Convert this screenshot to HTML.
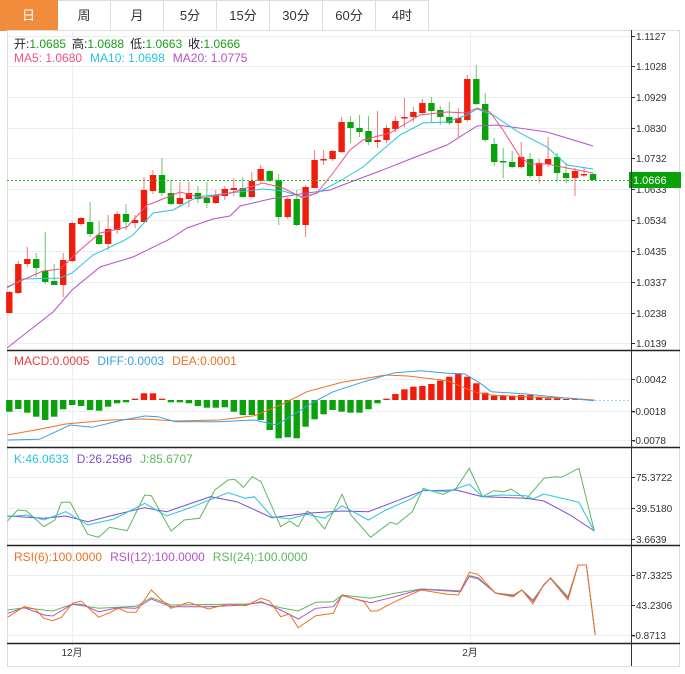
<!DOCTYPE html>
<html><head><meta charset="utf-8"><style>
body{margin:0;background:#fff;width:685px;height:674px;overflow:hidden;font-family:"Liberation Sans","Noto Sans CJK SC",sans-serif}
.tabs{position:absolute;left:0;top:0;height:30px;display:flex}
.tab{width:52px;height:29px;border:1px solid #ddd;border-left:none;text-align:center;line-height:29px;font-size:13px;color:#333;box-sizing:content-box}
.tab.on{background:#f08c3c;color:#fff;border-color:#f08c3c;width:57px}
svg{position:absolute;left:0;top:0}
</style></head><body>
<div class="tabs"><div class="tab on">日</div><div class="tab">周</div><div class="tab">月</div><div class="tab">5分</div><div class="tab">15分</div><div class="tab">30分</div><div class="tab">60分</div><div class="tab">4时</div></div>
<svg id="s" width="685" height="674" xmlns="http://www.w3.org/2000/svg" font-family="Liberation Sans, Noto Sans CJK SC, sans-serif"></svg>
<script>
var s=document.getElementById('s'),h='';
function L(x1,y1,x2,y2,c,w,d){h+='<line x1="'+x1+'" y1="'+y1+'" x2="'+x2+'" y2="'+y2+'" stroke="'+c+'" stroke-width="'+(w||1)+'"'+(d?' stroke-dasharray="'+d+'"':'')+'/>';}
function T(x,y,t,c,sz,a){h+='<text x="'+x+'" y="'+y+'" fill="'+c+'" font-size="'+(sz||11)+'"'+(a?' text-anchor="'+a+'"':'')+'>'+t+'</text>';}
function P(pts,c,w){h+='<polyline fill="none" stroke="'+c+'" stroke-width="'+(w||1)+'" points="'+pts.map(function(p){return p[0]+','+p[1]}).join(' ')+'"/>';}
function Z(pts,yo){return pts.map(function(p){return [(p[0]/2.28).toFixed(1),(yo+p[1]/3).toFixed(1)]});}
// frame
h+='<rect x="7.5" y="30.5" width="672" height="636" fill="none" stroke="#ddd"/>';
// grid main
[36,66,97,128,158,189,220,251,282,313,343].forEach(function(y){L(7,y+.5,631,y+.5,'#e8eef2');});
[379,411,440,477,508,539,575,605,635].forEach(function(y){L(7,y+.5,631,y+.5,'#e8eef2');});
L(72.5,30,72.5,643,'#e8eef2');L(470.5,30,470.5,643,'#e8eef2');
// labels main
var lab=['1.1127','1.1028','1.0929','1.0830','1.0732','1.0633','1.0534','1.0435','1.0337','1.0238','1.0139'];
[36,66,97,128,158,189,220,251,282,313,343].forEach(function(y,i){L(631,y+.5,635,y+.5,'#333');T(636,y+4,lab[i],'#333',10);});
[[379,'0.0042'],[411,'-0.0018'],[440,'-0.0078'],[477,'75.3722'],[508,'39.5180'],[539,'3.6639'],[575,'87.3325'],[605,'43.2306'],[635,'-0.8713']].forEach(function(a){L(631,a[0]+.5,635,a[0]+.5,'#333');T(a[1][0]=='-'?632:636,a[0]+4,a[1],'#333',10);});
// candles [color, bodyTop, bodyBot, wickTop, wickBot]
var C=[['r',292,313,291,313],['r',264,293,261,294],['r',259,264,247,267],['g',259,268,253,277],['g',271,282,232,284],['g',281,285,264,285],['r',260,285,253,297],['r',223,261,222,262],['r',218,224,217,226],['g',222,234,202,237],['g',235,244,221,245],['r',229,244,215,250],['r',214,230,211,234],['g',214,222,204,230],['r',220,223,215,228],['r',190,222,177,222],['r',175,191,170,194],['g',175,193,158,196],['g',193,204,180,205],['r',198,204,182,207],['r',193,199,182,207],['g',193,199,186,203],['g',198,203,182,208],['r',195,203,190,204],['r',189,196,186,200],['r',188,190,178,196],['g',188,197,177,198],['r',181,197,172,198],['r',169,181,165,183],['g',171,181,170,182],['g',180,217,174,225],['r',199,217,197,219],['g',199,225,190,226],['r',187,225,185,237],['r',160,188,150,188],['r',159,160,150,165],['r',151,159,150,161],['r',122,152,117,153],['g',122,128,116,143],['g',128,132,115,137],['g',131,142,116,145],['r',140,142,111,148],['r',128,140,125,143],['r',121,129,116,132],['r',117,118,98,127],['r',112,117,107,122],['r',103,113,99,115],['g',103,111,97,122],['g',110,117,106,125],['g',117,123,102,125],['r',118,123,108,137],['r',79,120,75,122],['g',79,104,65,105],['g',104,140,93,142],['g',144,162,138,166],['g',161,162,148,178],['g',162,167,151,168],['r',157,167,142,168],['g',159,176,153,178],['r',163,176,159,183],['r',159,164,137,167],['g',157,173,153,182],['g',173,178,163,183],['r',171,178,168,196],['r',174,175,168,177],['g',174,180,173,180]];
C.forEach(function(c,i){var x=9.3+8.98*i,col=c[0]=='r'?'#f01c0c':'#0aa20a',wc=c[0]=='r'?'#f47a72':'#6ac86a';
L(x.toFixed(1),c[3],x.toFixed(1),c[4],wc);h+='<rect x="'+(x-3.2).toFixed(1)+'" y="'+c[1]+'" width="6.4" height="'+Math.max(1.5,c[2]-c[1])+'" fill="'+col+'"/>';});
// MAs
P([[7,348],[53,312],[72,290],[100,267],[133,257],[170,239],[187,228],[213,219],[230,216],[240,206],[270,199],[300,194],[330,190],[340,186],[380,171],[413,158],[447,145],[477,126],[497,125],[547,132],[593,146]],'#b452c8');
P([[7,288],[23,279],[60,278],[72,273],[93,255],[123,241],[133,235],[153,213],[173,210],[197,197],[230,193],[263,189],[283,191],[303,197],[317,193],[340,181],[363,167],[380,152],[400,135],[423,123],[447,122],[467,115],[477,109],[493,115],[520,133],[547,147],[567,165],[593,169]],'#28c4dc');
P([[7,287],[43,271],[60,269],[80,250],[100,233],[127,227],[147,205],[153,203],[180,192],[203,198],[230,193],[263,183],[283,188],[303,198],[317,193],[333,173],[350,150],[363,140],[390,133],[400,127],[420,115],[447,112],[467,113],[477,108],[490,112],[503,130],[520,157],[530,164],[547,164],[567,168],[593,173]],'#f0508a');
// current price line
L(7,180.5,631,180.5,'#22bb22',1,'2,2');
h+='<rect x="629" y="172" width="52" height="16" fill="#0aa20a"/>';T(633,184,'1.0666','#fff',11);
// MACD histogram
var M=[185,177,188,200,210,200,178,165,168,180,182,170,160,157,146,130,130,146,157,157,160,168,173,173,172,185,195,195,210,240,265,262,265,230,208,193,180,185,188,188,178,160,146,132,118,110,108,102,92,80,70,80,100,128,137,137,137,135,135,140,145,145,147,148,149,150];
M.forEach(function(v,i){var x=9.3+8.98*i,y0=400,dy=(v-150)/3;if(Math.abs(dy)<0.5)return;
h+='<rect x="'+(x-3.2).toFixed(1)+'" y="'+(dy>0?y0:y0+dy).toFixed(1)+'" width="6.4" height="'+Math.abs(dy).toFixed(1)+'" fill="'+(dy>0?'#0aa20a':'#f01c0c')+'"/>';});
P(Z([[17,255],[80,240],[150,222],[250,210],[330,207],[400,213],[500,210],[580,197],[640,165],[700,125],[780,97],[880,75],[930,78],[1020,92],[1080,125],[1120,135],[1200,140],[1300,145],[1355,150]],350),'#f07020');
P(Z([[17,270],[90,268],[160,225],[210,232],[280,210],[330,198],[360,200],[400,215],[500,215],[580,210],[630,225],[680,185],[710,160],[760,125],[830,95],[900,68],[960,62],[1020,70],[1060,72],[1095,100],[1120,125],[1200,132],[1260,140],[1355,152]],350),'#3aa0e8');
L(595,400.5,631,400.5,'#9cd4f0',1,'2,2');
// KDJ
P(Z([[17,228],[40,195],[60,197],[100,245],[125,225],[140,172],[160,172],[200,268],[225,277],[250,247],[290,257],[330,150],[345,152],[390,258],[420,225],[455,220],[490,135],[520,105],[535,103],[555,127],[575,95],[595,110],[640,245],[660,228],[680,245],[700,198],[710,205],[740,252],[780,148],[800,210],[845,277],[890,232],[905,238],[940,200],[965,130],[1010,148],[1040,130],[1070,70],[1100,155],[1125,137],[1150,140],[1165,132],[1200,162],[1240,100],[1265,95],[1280,97],[1320,70],[1355,258]],445),'#5cb85c');
P(Z([[17,213],[100,220],[150,213],[200,230],[260,210],[330,188],[380,200],[480,155],[540,170],[620,218],[700,205],[780,198],[840,200],[900,170],[965,137],[1040,135],[1100,155],[1200,160],[1240,168],[1300,210],[1355,258]],445),'#7a4ed0');
P(Z([[17,215],[60,210],[100,225],[150,200],[200,240],[260,222],[330,175],[380,213],[440,185],[520,143],[560,160],[580,155],[620,215],[660,222],[700,208],[740,220],[780,182],[840,225],[880,195],[940,160],[965,135],[1020,140],[1070,118],[1100,155],[1140,150],[1200,152],[1215,162],[1240,147],[1320,172],[1355,258]],445),'#28c4dc');
// RSI
P(Z([[17,495],[55,488],[120,498],[165,478],[225,490],[310,484],[345,458],[390,480],[560,477],[595,473],[640,488],[680,498],[720,472],[760,470],[780,450],[845,460],[900,445],[960,432],[1050,437],[1070,395],[1090,402],[1130,444],[1170,450],[1190,435],[1215,465],[1240,420],[1255,398],[1295,455],[1318,360],[1337,360],[1357,570]],445),'#5cb85c');
P(Z([[17,505],[55,488],[100,510],[120,513],[165,478],[185,478],[225,500],[270,488],[310,490],[345,462],[390,485],[475,485],[560,480],[595,470],[640,495],[680,522],[720,490],[760,485],[780,452],[845,473],[900,455],[960,433],[1050,440],[1070,392],[1090,398],[1130,445],[1170,452],[1190,435],[1215,470],[1240,420],[1255,400],[1295,460],[1318,360],[1337,360],[1357,570]],445),'#b452c8');
P(Z([[17,517],[55,485],[80,492],[100,520],[120,527],[140,517],[165,475],[185,468],[225,517],[250,503],[270,490],[290,502],[310,502],[345,435],[370,467],[390,490],[430,472],[475,492],[520,477],[560,482],[595,460],[615,468],[640,515],[660,507],[680,548],[720,512],[760,505],[780,450],[830,470],[845,498],[860,498],[900,470],[960,435],[1020,448],[1045,450],[1070,382],[1090,388],[1130,445],[1170,455],[1190,435],[1215,477],[1240,418],[1255,400],[1295,465],[1318,360],[1337,360],[1357,570]],445),'#f07020');
// separators
L(7,350.5,680,350.5,'#222',1.5);L(7,447.5,680,447.5,'#222',1.5);L(7,545.5,680,545.5,'#222',1.5);L(7,643.5,680,643.5,'#222',1.5);
L(631.5,30,631.5,666,'#333');
// x labels
T(72,656,'12月','#333',10,'middle');T(470,656,'2月','#333',10,'middle');
// legends
h+='<text x="14" y="48" font-size="12"><tspan fill="#222">开:</tspan><tspan fill="#1a9e1a">1.0685</tspan><tspan fill="#222" dx="6">高:</tspan><tspan fill="#1a9e1a">1.0688</tspan><tspan fill="#222" dx="6">低:</tspan><tspan fill="#1a9e1a">1.0663</tspan><tspan fill="#222" dx="6">收:</tspan><tspan fill="#1a9e1a">1.0666</tspan></text>';
h+='<text x="14" y="62" font-size="12"><tspan fill="#f0508a">MA5: 1.0680</tspan><tspan fill="#28c4dc" dx="8">MA10: 1.0698</tspan><tspan fill="#b452c8" dx="8">MA20: 1.0775</tspan></text>';
h+='<text x="14" y="365" font-size="12"><tspan fill="#f03c3c">MACD:0.0005</tspan><tspan fill="#3aa0e8" dx="8">DIFF:0.0003</tspan><tspan fill="#f07020" dx="8">DEA:0.0001</tspan></text>';
h+='<text x="14" y="463" font-size="12"><tspan fill="#28c4dc">K:46.0633</tspan><tspan fill="#7a4ed0" dx="8">D:26.2596</tspan><tspan fill="#5cb85c" dx="8">J:85.6707</tspan></text>';
h+='<text x="14" y="561" font-size="12"><tspan fill="#f07020">RSI(6):100.0000</tspan><tspan fill="#b452c8" dx="8">RSI(12):100.0000</tspan><tspan fill="#5cb85c" dx="8">RSI(24):100.0000</tspan></text>';
s.innerHTML=h;
</script>
</body></html>
